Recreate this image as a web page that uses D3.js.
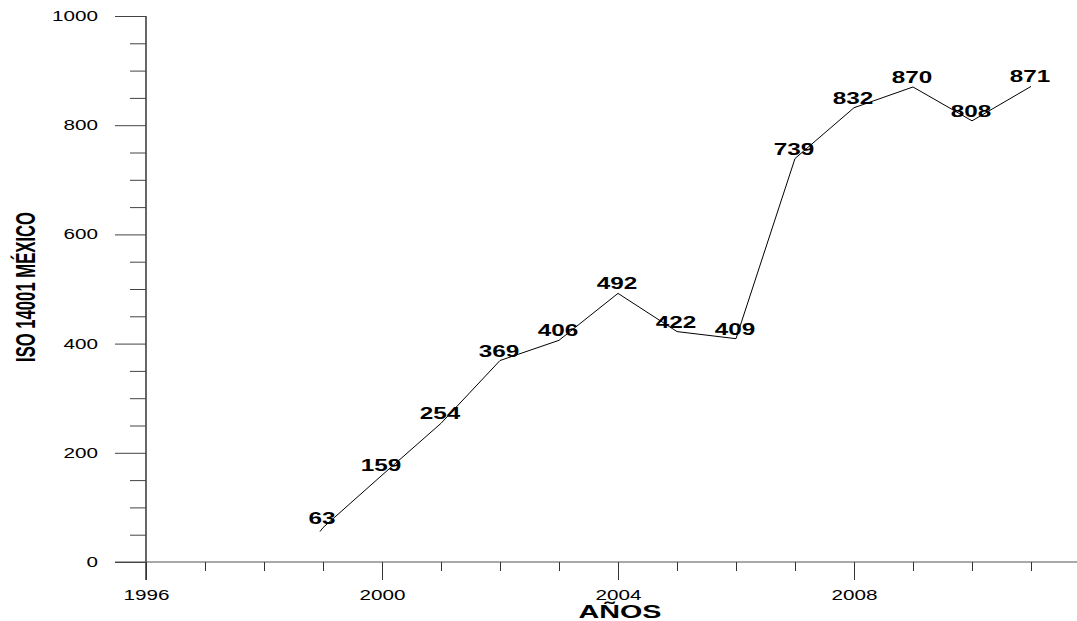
<!DOCTYPE html>
<html><head><meta charset="utf-8">
<script src="https://cdn.jsdelivr.net/npm/d3@7"></script>
<style>body{margin:0;background:#fff}</style>
</head><body>
<svg id="c" width="1077" height="621"></svg>
<script>
const years = [1999,2000,2001,2002,2003,2004,2005,2006,2007,2008,2009,2010,2011];
const values = [63,159,254,369,406,492,422,409,739,832,870,808,871];
const yMajorTicks = [0,200,400,600,800,1000];
const yMinorTicks = d3.range(0,1001,50).filter(v=>v%200!==0);
const xMajorTicks = [1996,2000,2004,2008];
const xMinorTicks = d3.range(1997,2012).filter(v=>v%4!==0);
const yTitle = "ISO 14001 MÉXICO";
const xTitle = "AÑOS";

const svg = d3.select("#c");
const x = d3.scaleLinear().domain([1996,2012]).range([146,1090]);
const y = d3.scaleLinear().domain([0,1000]).range([562,16]);
const tickFont = "Liberation Sans, Arial, sans-serif";

// axis lines
svg.append("line").attr("x1",146).attr("x2",146).attr("y1",y(1000)).attr("y2",580).attr("stroke","#000").attr("stroke-width",1.2);
svg.append("line").attr("x1",115).attr("x2",1077).attr("y1",y(0)).attr("y2",y(0)).attr("stroke","#555").attr("stroke-width",1.2);

function stretch(sel, perChar){
  sel.each(function(){
    const t=d3.select(this); const s=t.text();
    if(s) t.attr("textLength", s.length*perChar).attr("lengthAdjust","spacingAndGlyphs");
  });
}

// y ticks
const gy = svg.append("g").attr("transform","translate(146,0)")
  .call(d3.axisLeft(y).tickValues(yMajorTicks).tickSize(31).tickPadding(17).tickFormat(d3.format("d")));
gy.select(".domain").remove();
gy.selectAll("line").attr("stroke","#444");
gy.selectAll("text").attr("font-family",tickFont).attr("font-size",14).attr("fill","#000").call(stretch,11.5);
const gym = svg.append("g").attr("transform","translate(146,0)")
  .call(d3.axisLeft(y).tickValues(yMinorTicks).tickSize(16).tickFormat(""));
gym.select(".domain").remove();
gym.selectAll("line").attr("stroke","#444");

// x ticks
const gx = svg.append("g").attr("transform",`translate(0,${y(0)})`)
  .call(d3.axisBottom(x).tickValues(xMajorTicks).tickSize(18).tickPadding(10).tickFormat(d3.format("d")));
gx.select(".domain").remove();
gx.selectAll("line").attr("stroke","#333");
gx.selectAll("text").attr("font-family",tickFont).attr("font-size",14).attr("fill","#000").call(stretch,11.5);
const gxm = svg.append("g").attr("transform",`translate(0,${y(0)})`)
  .call(d3.axisBottom(x).tickValues(xMinorTicks).tickSize(9).tickFormat(""));
gxm.select(".domain").remove();
gxm.selectAll("line").attr("stroke","#333");

// data line
const data = years.map((yr,i)=>({yr,v:values[i]}));
svg.append("path").datum(data)
  .attr("d",d3.line().x(d=>x(d.yr)).y(d=>y(d.v)))
  .attr("fill","none").attr("stroke","#000").attr("stroke-width",1);

svg.append("path").attr("d",`M${x(1999)},${y(values[0])} l-3,4`).attr("stroke","#000").attr("stroke-width",1);

// labels
svg.selectAll(".lbl").data(data).enter().append("text")
  .attr("x",d=>x(d.yr)-1).attr("y",d=>y(d.v)-4)
  .attr("text-anchor","middle")
  .attr("font-family",tickFont).attr("font-weight","bold").attr("font-size",16)
  .text(d=>d.v).call(stretch,13.5);

// titles
svg.append("text").attr("x",620).attr("y",618).attr("text-anchor","middle")
  .attr("font-family",tickFont).attr("font-weight","bold").attr("font-size",18)
  .attr("textLength",83).attr("lengthAdjust","spacingAndGlyphs").text(xTitle);
svg.append("text").attr("transform","translate(35,287) rotate(-90)").attr("text-anchor","middle")
  .attr("font-family",tickFont)
  .attr("font-weight","bold").attr("font-size",27)
  .attr("textLength",150).attr("lengthAdjust","spacingAndGlyphs").text(yTitle);
</script>
</body></html>
